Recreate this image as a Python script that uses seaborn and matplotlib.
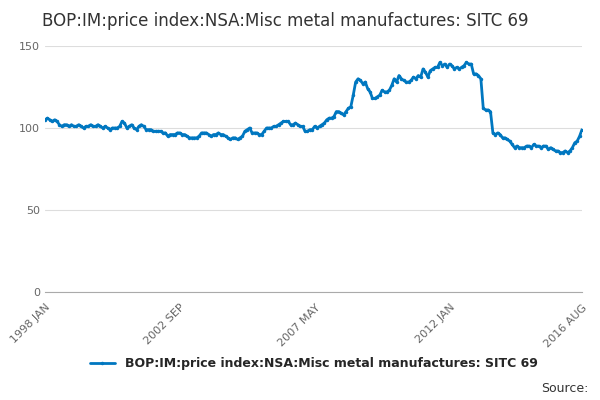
import pandas as pd
import matplotlib.pyplot as plt
import seaborn as sns

SERIES_NAME = "BOP:IM:price index:NSA:Misc metal manufactures: SITC 69"
START = "1998-01-01"
TICK_LABELS = ["1998 JAN", "2002 SEP", "2007 MAY", "2012 JAN", "2016 AUG"]

# monthly values, 1998 JAN .. 2016 AUG
VALUES = [
    105, 106, 105, 104, 105, 104, 102, 101, 102, 102, 101, 102,
    101, 101, 102, 101, 100, 101, 101, 102, 101, 101, 102, 101,
    100, 101, 100, 99, 100, 100, 100, 101, 104, 103, 100, 101,
    102, 100, 99, 101, 102, 101, 99, 99, 99, 98, 98, 98,
    98, 97, 97, 95, 96, 96, 96, 97, 97, 96, 96, 95,
    94, 94, 94, 94, 95, 97, 97, 97, 96, 95, 96, 96,
    97, 96, 96, 95, 94, 93, 94, 94, 93, 94, 95, 98,
    99, 100, 97, 97, 97, 96, 96, 98, 100, 100, 100, 101,
    101, 102, 103, 104, 104, 104, 102, 102, 103, 102, 101, 101,
    98, 98, 99, 99, 101, 100, 101, 102, 103, 105, 106, 106,
    107, 110, 110, 109, 108, 110, 112, 113, 120, 128, 130, 129,
    127, 128, 124, 122, 118, 118, 119, 120, 123, 122, 122, 123,
    126, 130, 128, 132, 130, 129, 128, 128, 129, 131, 130, 132,
    131, 136, 134, 131, 135, 136, 137, 137, 140, 138, 139, 137,
    139, 138, 136, 137, 136, 137, 138, 140, 139, 139, 133, 133,
    132, 130, 112, 111, 111, 110, 97, 96, 97, 96, 94, 94,
    93, 92, 90, 88, 89, 88, 88, 88, 89, 89, 88, 90,
    89, 89, 88, 89, 89, 87, 88, 87, 86, 86, 85, 85,
    86, 85, 86, 88, 91, 92, 95, 99,
]

df = pd.DataFrame({"idx": range(len(VALUES)), "value": VALUES})

sns.set_style("white")
plt.rcParams["font.family"] = ["DejaVu Sans"]

fig, ax = plt.subplots(figsize=(6, 4), dpi=100)
sns.lineplot(data=df, x="idx", y="value", ax=ax, color="#0077c0", linewidth=2,
             marker="o", markersize=2.5, markeredgewidth=0, label=SERIES_NAME)

ax.set_ylim(0, 150)
ax.set_yticks([0, 50, 100, 150])
ax.set_xlim(0, len(VALUES) - 1)
ax.set_xticks([0, 56, 112, 168, 223])
ax.set_xticklabels(TICK_LABELS, rotation=45, ha="right", rotation_mode="anchor")
ax.tick_params(axis="both", labelsize=8, colors="#666666", length=0)
ax.tick_params(axis="x", length=4, color="#aaaaaa")
ax.yaxis.grid(True, color="#dddddd", linewidth=0.8)
ax.set_xlabel("")
ax.set_ylabel("")
for s in ["top", "right", "left"]:
    ax.spines[s].set_visible(False)
ax.spines["bottom"].set_color("#aaaaaa")

fig.suptitle(SERIES_NAME, x=0.07, y=0.97, ha="left", fontsize=12, color="#333333")
ax.legend(loc="upper center", bbox_to_anchor=(0.5, -0.22), frameon=False,
          fontsize=9, prop={"weight": "bold", "size": 9})
fig.text(0.98, 0.02, "Source:", ha="right", fontsize=9, color="#333333")

plt.subplots_adjust(left=0.075, right=0.97, top=0.885, bottom=0.27)
fig.savefig("out.png", dpi=100)
